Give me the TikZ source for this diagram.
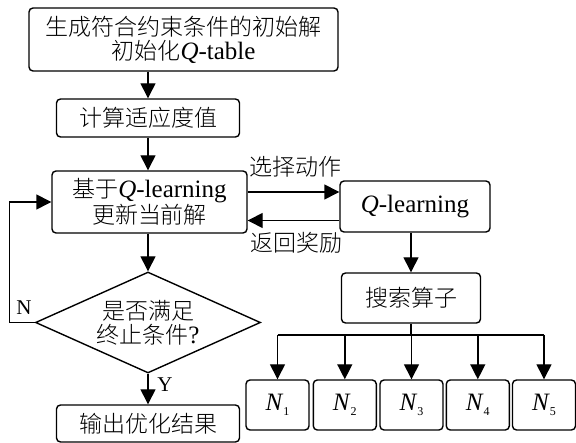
\documentclass[tikz,border=0pt]{standalone}
\usepackage{fontspec}
\setmainfont{Liberation Serif}
\newfontfamily\cjk[Scale=0.92,UprightFont={* Light}]{Noto Sans CJK SC}
\usetikzlibrary{shapes.geometric,arrows.meta}
\begin{document}
\begin{tikzpicture}[x=1pt,y=-1pt,line width=1.4pt,
  box/.style={draw,rounded corners=4pt,inner sep=0pt,align=center,
    font=\fontsize{25}{24}\selectfont},
  dia/.style={draw,diamond,aspect=2.2,inner sep=0pt,align=center,
    minimum width=225pt,minimum height=101pt,font=\fontsize{25}{24}\selectfont},
  lbl/.style={inner sep=0pt,font=\fontsize{25}{24}\selectfont},
  yn/.style={inner sep=0pt,font=\fontsize{21}{21}\selectfont},
  arr/.style={-{Triangle[length=15pt,width=15pt]}}]
\useasboundingbox (0,0) rectangle (576,443);
\node[box,minimum width=309pt,minimum height=63pt] (b1) at (183.5,39.5)
  {{\cjk 生成符合约束条件的初始解}\\{\cjk 初始化}\textit{Q}-table};
\node[box,minimum width=183pt,minimum height=38pt] (b2) at (148,118) {\cjk 计算适应度值};
\node[box,minimum width=195pt,minimum height=62pt] (b3) at (149.5,202)
  {{\cjk 基于}\textit{Q}-learning\\{\cjk 更新当前解}};
\node[dia] (d) at (148,322.5) {{\cjk 是否满足}\\{\cjk 终止条件}?};
\node[box,minimum width=183pt,minimum height=37pt] (out) at (148,423.5) {\cjk 输出优化结果};
\node[box,minimum width=150pt,minimum height=51pt] (q) at (415,206.5) {\textit{Q}-learning};
\node[box,minimum width=139pt,minimum height=50pt] (s) at (411,298) {\cjk 搜索算子};
\foreach \i/\x in {1/277.5,2/344.8,3/411.5,4/477.8,5/544}{
  \node[box,minimum width=63pt,minimum height=50pt] (n\i) at (\x,405)
    {\textit{N}\raisebox{-5pt}{\fontsize{12}{12}\selectfont\i}};
}
\coordinate (bus) at (411,335);
\coordinate (lp) at (9.5,322.5);
% connectors
\draw[arr] (b2.north |- b1.south) -- (b2.north);
\draw[arr] (b2.south) -- (b2.south |- b3.north);
\draw[arr] (d.north |- b3.south) -- (d.north);
\draw[arr] (d.south) -- (out.north);
\draw[arr] (d.west) -- (lp) |- (b3.west);
\draw[arr] ([yshift=10pt]b3.east) -- ([yshift=10pt]b3.east -| q.west);
\draw[arr] ([yshift=-14pt]q.west) -- ([yshift=-14pt]q.west -| b3.east);
\draw[arr] (s.north |- q.south) -- (s.north);
\draw (s.south) -- (bus);
\draw (n1.north |- bus) -- (n5.north |- bus);
\foreach \i in {1,...,5}{\draw[arr] (n\i.north |- bus) -- (n\i.north);}
% labels
\node[lbl,anchor=west] (l1) at (249,167) {\cjk 选择动作};
\node[lbl,anchor=west] (l2) at (250,243) {\cjk 返回奖励};
\node[yn] (ln) at (24,308) {N};
\node[yn] (ly) at (165,385) {Y};
\end{tikzpicture}
\end{document}
